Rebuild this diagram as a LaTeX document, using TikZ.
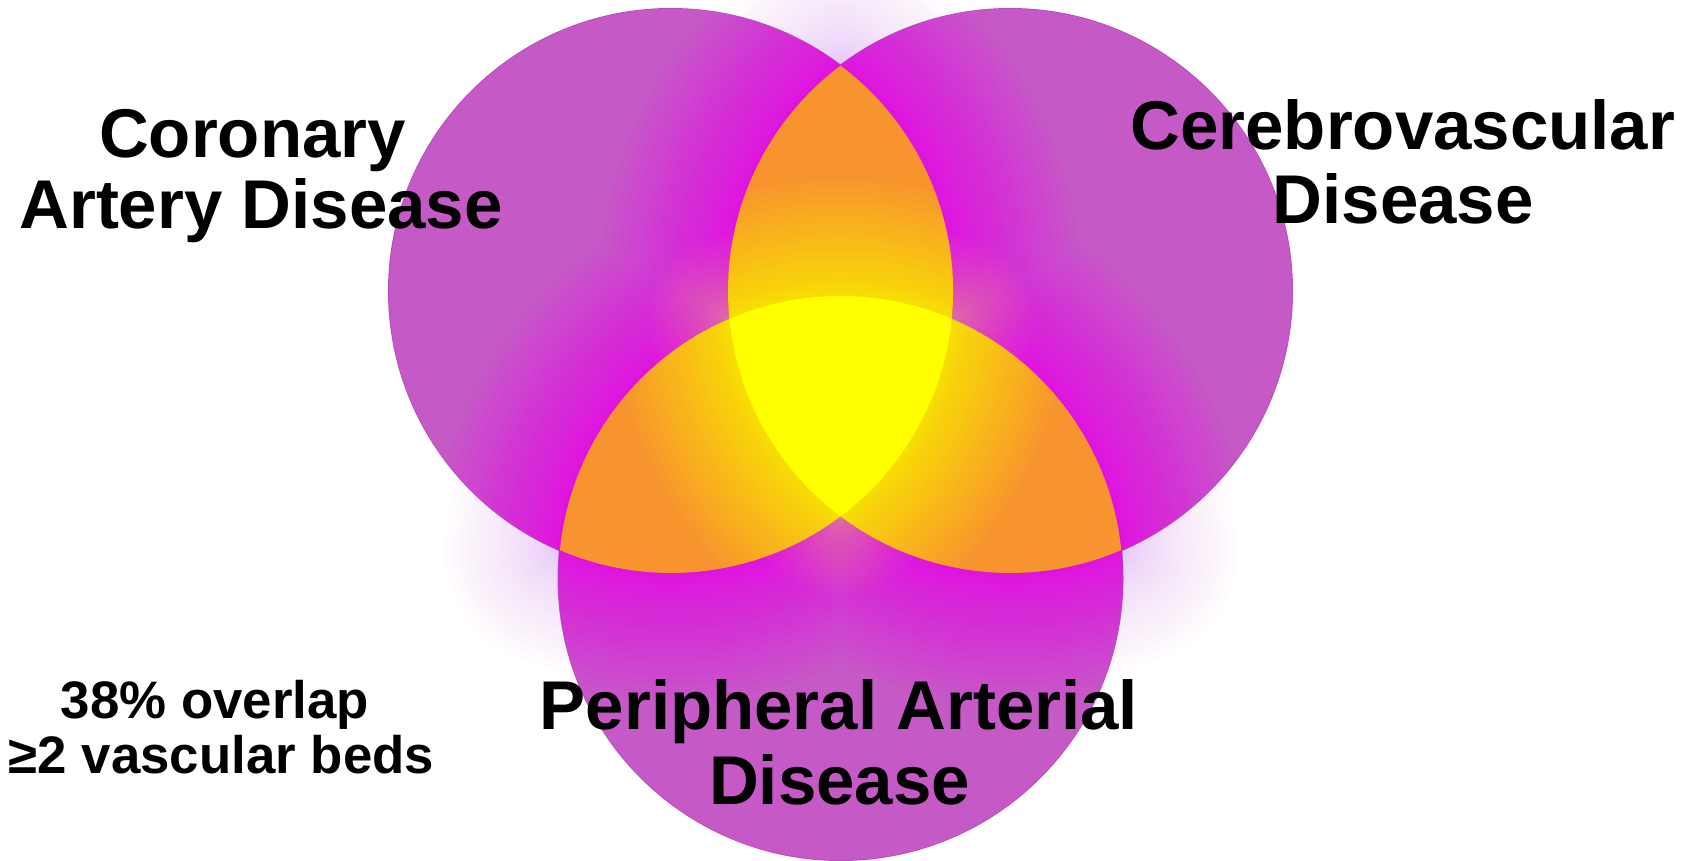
\documentclass[tikz,border=0pt]{standalone}
\usepackage{fontspec}
\setmainfont{Liberation Sans}
\definecolor{circpurple}{RGB}{197,90,198}
\definecolor{rimpurple}{RGB}{185,78,192}
\definecolor{glowmag}{RGB}{238,10,238}
\definecolor{halocol}{RGB}{225,70,250}
\definecolor{lensorange}{RGB}{248,148,46}
\definecolor{coreyellow}{RGB}{255,255,0}
\definecolor{glowcream}{RGB}{255,215,120}
\tikzset{
  biglabel/.style={font=\fontsize{69}{74}\selectfont\bfseries, anchor=base, inner sep=0pt, text=black},
  smalllabel/.style={font=\fontsize{52.8}{55}\selectfont\bfseries, anchor=base, inner sep=0pt, text=black},
  circlefill/.style={fill=circpurple},
  rimline/.style={draw=rimpurple, line width=2pt},
  lensfill/.style={fill=lensorange},
  corefill/.style={fill=coreyellow}
}
% union of the three pairwise overlaps
\def\lenspath{(840.5,65.625) arc[start angle=233.05, end angle=174.34, radius=282] arc[start angle=246.79, end angle=185.66, radius=282] arc[start angle=113.21, end angle=53.05, radius=282] arc[start angle=126.95, end angle=66.79, radius=282] arc[start angle=-5.66, end angle=-66.79, radius=282] arc[start angle=5.66, end angle=-53.05, radius=282] -- cycle}
% triple overlap
\def\triplepath{(729.38,318.82) arc[start angle=246.79, end angle=293.21, radius=282] arc[start angle=5.66, end angle=53.05, radius=282] arc[start angle=126.95, end angle=174.34, radius=282] -- cycle}
% soft glow: stacked strokes  #1 path, #2 colour, #3 opacity, #4 reach, #5 layers
\newcommand\glowlayers[5]{%
  \foreach \k in {1,...,#5} {%
    \pgfmathsetmacro\w{2*#4*(\k/#5)^2}%
    \draw[#2, opacity=#3, line width=\w pt, line join=round] #1;%
  }%
}
\begin{document}
\begin{tikzpicture}[x=1pt,y=-1pt]
\useasboundingbox (0,0) rectangle (1692,861);
\fill[white] (0,0) rectangle (1692,861);
\coordinate (A) at (671,291);
\coordinate (B) at (1010,291);
\coordinate (C) at (840.5,578);
% faint outer halo
\glowlayers{\lenspath}{halocol}{0.012}{115}{30}
% circles
\path[rimline] (A) circle (282) (B) circle (282) (C) circle (282);
\path[circlefill] (A) circle (282) (B) circle (282) (C) circle (282);
% inner magenta glow
\begin{scope}
  \clip (A) circle (282) (B) circle (282) (C) circle (282);
  \glowlayers{\lenspath}{glowmag}{0.06}{128}{30}
\end{scope}
% orange overlaps
\path[lensfill] \lenspath;
% yellow glow inside overlaps
\begin{scope}
  \clip \lenspath;
  \glowlayers{\triplepath}{coreyellow}{0.05}{115}{30}
\end{scope}
% warm glow outside overlaps
\begin{scope}[even odd rule]
  \clip (-10,-10) rectangle (1702,871) \lenspath;
  \glowlayers{\triplepath}{glowcream}{0.028}{80}{30}
\end{scope}
% yellow core
\path[corefill] \triplepath;
% labels
\node[biglabel] (cad1) at (252.5,157.5) {Coronary};
\node[biglabel] (cad2) at (261,228.8) {Artery Disease};
\node[biglabel] (cvd1) at (1402.8,150) {Cerebrovascular};
\node[biglabel] (cvd2) at (1403.3,223.4) {Disease};
\node[biglabel] (pad1) at (839,729.5) {Peripheral Arterial};
\node[biglabel] (pad2) at (839.5,804) {Disease};
\node[smalllabel] (ov1) at (215,718) {38\% overlap};
\node[smalllabel] (ov2) at (221.5,773) {≥2 vascular beds};
\end{tikzpicture}
\end{document}
